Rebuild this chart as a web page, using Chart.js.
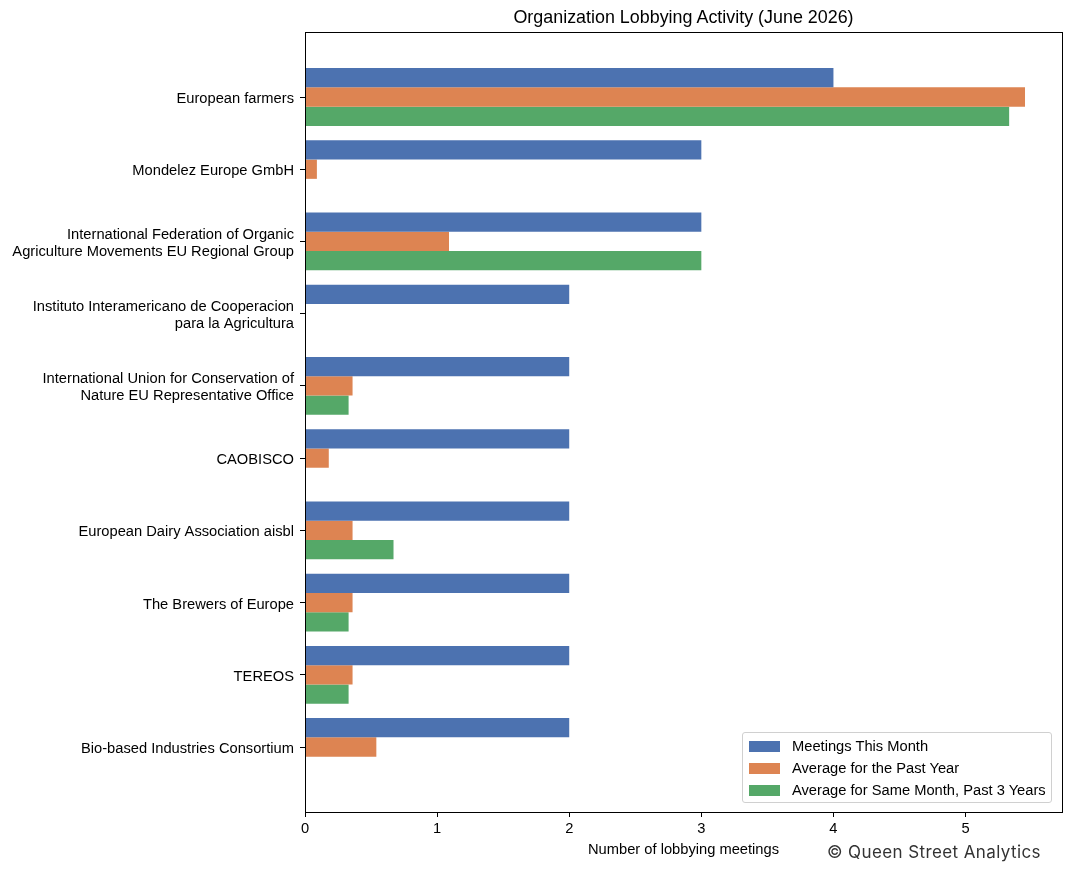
<!DOCTYPE html>
<html>
<head>
<meta charset="utf-8">
<script src="https://cdn.jsdelivr.net/npm/chart.js@4/dist/chart.umd.min.js"></script>
<style>
  html, body { margin: 0; padding: 0; background: #fff; }
  #wrap { position: relative; width: 1079px; height: 876px; }
  #title {
    position: absolute; left: 305px; width: 757px; top: 7px; text-align: center;
    font-family: "Liberation Sans", Arial, sans-serif; font-size: 17.9px; color: #000;
  }
  #legend {
    position: absolute; left: 742px; top: 732px; width: 310px; height: 71px;
    border: 1px solid #d0d0d0; border-radius: 3px; background: rgba(255,255,255,0.8);
    font-family: "Liberation Sans", Arial, sans-serif; font-size: 14.7px; color: #000;
    box-sizing: border-box; padding-top: 2px;
  }
  .row { height: 22px; display: flex; align-items: center; }
  .sw { width: 31px; height: 11px; margin-left: 6px; margin-right: 12px; }
  #mark {
    position: absolute; right: 38px; top: 842px;
    font-family: Inter, sans-serif; font-size: 17px; letter-spacing: 0.4px; color: #333;
  }
</style>
</head>
<body>
<div id="wrap">
  <canvas id="chart" width="1079" height="876"></canvas>
  <div id="title">Organization Lobbying Activity (June 2026)</div>
  <div id="legend"></div>
  <div id="mark">© Queen Street Analytics</div>
</div>
<script>
const organizaciones = [
    'European farmers',
    'Mondelez Europe GmbH',
    ['International Federation of Organic', 'Agriculture Movements EU Regional Group'],
    ['Instituto Interamericano de Cooperacion', 'para la Agricultura'],
    ['International Union for Conservation of', 'Nature EU Representative Office'],
    'CAOBISCO',
    'European Dairy Association aisbl',
    'The Brewers of Europe',
    'TEREOS',
    'Bio-based Industries Consortium'
];
const reunionesMes = [4, 3, 3, 2, 2, 2, 2, 2, 2, 2];
const promedioAnio = [5.45, 0.09, 1.09, 0, 0.36, 0.18, 0.36, 0.36, 0.36, 0.54];
const promedioMismoMes = [5.33, 0, 3, 0, 0.33, 0, 0.67, 0.33, 0.33, 0];
const ticksX = [0, 1, 2, 3, 4, 5];

const series = [
    { label: 'Meetings This Month', valores: reunionesMes, color: '#4C72B0' },
    { label: 'Average for the Past Year', valores: promedioAnio, color: '#DD8452' },
    { label: 'Average for Same Month, Past 3 Years', valores: promedioMismoMes, color: '#55A868' }
];

const fuente = '"Liberation Sans", Arial, sans-serif';

// marco negro alrededor del area del grafico
const marco = {
    id: 'marco',
    afterDatasetsDraw(chart) {
        const { ctx, chartArea: a } = chart;
        ctx.save();
        ctx.strokeStyle = '#000';
        ctx.lineWidth = 1;
        ctx.strokeRect(Math.round(a.left) + 0.5, Math.round(a.top) + 0.5,
            Math.round(a.right - a.left), Math.round(a.bottom - a.top));
        ctx.restore();
    }
};

new Chart(document.getElementById('chart'), {
    type: 'bar',
    data: {
        datasets: series.map(s => ({
            label: s.label,
            data: s.valores.map((v, i) => ({ x: v, y: i })),
            backgroundColor: s.color,
            borderWidth: 0,
            categoryPercentage: 0.8,
            barPercentage: 1.0
        }))
    },
    options: {
        indexAxis: 'y',
        responsive: false,
        animation: false,
        layout: { padding: { left: 0, right: 17, top: 32, bottom: 0 } },
        plugins: {
            legend: { display: false },
            tooltip: { enabled: false },
            title: { display: false }
        },
        scales: {
            x: {
                type: 'linear',
                min: 0,
                max: 5.73,
                offset: false,
                afterBuildTicks: (scale) => { scale.ticks = ticksX.map(v => ({ value: v })); },
                afterFit: (scale) => { scale.height = 64; },
                border: { display: false },
                grid: { offset: false, drawOnChartArea: false, drawTicks: true, tickLength: 5, color: '#000', lineWidth: 1 },
                ticks: { color: '#000', padding: 3, font: { family: fuente, size: 14.7 } },
                title: {
                    display: true,
                    text: 'Number of lobbying meetings',
                    color: '#000',
                    font: { family: fuente, size: 14.7 },
                    padding: { top: 2, bottom: 17 }
                }
            },
            y: {
                type: 'linear',
                reverse: true,
                min: -0.9,
                max: 9.9,
                offset: false,
                afterBuildTicks: (scale) => { scale.ticks = organizaciones.map((c, i) => ({ value: i })); },
                afterFit: (scale) => { scale.width = 305; },
                border: { display: false },
                grid: { offset: false, drawOnChartArea: false, drawTicks: true, tickLength: 5, color: '#000', lineWidth: 1 },
                ticks: {
                    color: '#000',
                    padding: 6,
                    labelOffset: 2,
                    autoSkip: false,
                    font: { family: fuente, size: 14.7, lineHeight: 1.16 },
                    callback: (v) => organizaciones[v]
                }
            }
        }
    },
    plugins: [marco]
});

const leyenda = document.getElementById('legend');
series.forEach(s => {
    const fila = document.createElement('div');
    fila.className = 'row';
    fila.innerHTML = `<span class="sw" style="background:${s.color}"></span><span>${s.label}</span>`;
    leyenda.appendChild(fila);
});
</script>
</body>
</html>
